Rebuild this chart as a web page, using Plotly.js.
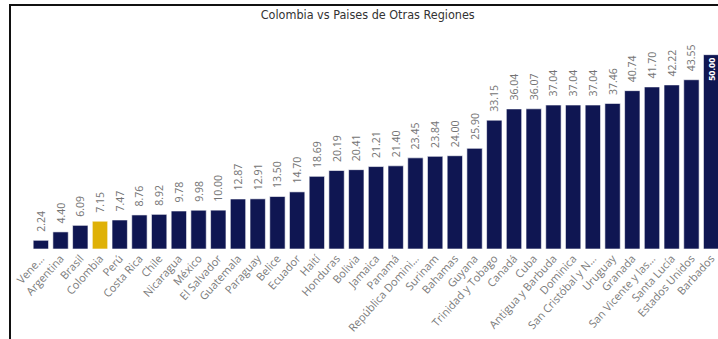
<!DOCTYPE html>
<html>
<head>
<meta charset="utf-8">
<script src="https://cdn.plot.ly/plotly-3.0.1.min.js"></script>
<style>
  html, body { margin: 0; padding: 0; background: #fff; }
  #wrap { position: relative; width: 718px; height: 339px; overflow: hidden; }
  #chart { position: absolute; left: 0; top: 0; width: 721px; height: 339px; }
  #frame { position: absolute; left: 9px; top: 4px; width: 720px; height: 340px;
           border-top: 2px solid #111; border-left: 2px solid #111; pointer-events: none; }
</style>
</head>
<body>
<div id="wrap">
  <div id="chart"></div>
  <div id="frame"></div>
</div>
<script>
// Countries, ordered from lowest to highest value
const countries = [
  "Vene…", "Argentina", "Brasil", "Colombia", "Perú", "Costa Rica", "Chile",
  "Nicaragua", "México", "El Salvador", "Guatemala", "Paraguay", "Belice",
  "Ecuador", "Haití", "Honduras", "Bolivia", "Jamaica", "Panamá",
  "República Domini…", "Surinam", "Bahamas", "Guyana", "Trinidad y Tobago",
  "Canadá", "Cuba", "Antigua y Barbuda", "Dominica", "San Cristóbal y N…",
  "Uruguay", "Granada", "San Vicente y las…", "Santa Lucía", "Estados Unidos",
  "Barbados"
];

const values = [
  2.24, 4.40, 6.09, 7.15, 7.47, 8.76, 8.92,
  9.78, 9.98, 10.00, 12.87, 12.91, 13.50,
  14.70, 18.69, 20.19, 20.41, 21.21, 21.40,
  23.45, 23.84, 24.00, 25.90, 33.15,
  36.04, 36.07, 37.04, 37.04, 37.04,
  37.46, 40.74, 41.70, 42.22, 43.55,
  50.00
];

const highlight = "Colombia";
const navy = "#0f1652";
const gold = "#dfb106";

const idx = countries.map((_, i) => i);
const colors = countries.map(c => c === highlight ? gold : navy);
const maxVal = Math.max(...values);
const positions = values.map(v => v === maxVal ? "inside" : "outside");
// outside labels get a little breathing room above the bar
const labels = values.map(v => (v === maxVal ? "" : "\u00a0\u00a0") + v.toFixed(2));

const trace = {
  type: "bar",
  x: idx,
  y: values,
  marker: { color: colors, line: { color: "#ffffff", width: 0.6 } },
  text: labels,
  textposition: positions,
  insidetextanchor: "end",
  textangle: -90,
  constraintext: "none",
  cliponaxis: false,
  insidetextfont: { family: "Open Sans, sans-serif", size: 9, color: "#ffffff", weight: "bold" },
  outsidetextfont: { family: "Open Sans, sans-serif", size: 10.5, color: "#737373" },
  hoverinfo: "skip"
};

const layout = {
  width: 721,
  height: 339,
  margin: { l: 31, r: 0, t: 43, b: 90, pad: 0 },
  paper_bgcolor: "#ffffff",
  plot_bgcolor: "#ffffff",
  showlegend: false,
  bargap: 0.22,
  title: {
    text: "Colombia vs Paises de Otras Regiones",
    font: { family: "DejaVu Sans Condensed, Liberation Sans Narrow, sans-serif", stretch: "condensed", size: 12.5, color: "#333333" },
    x: 0.51, xref: "container", xanchor: "center",
    y: 1, yref: "container", yanchor: "top", pad: { t: 10 }
  },
  xaxis: {
    type: "linear",
    range: [-0.5, 34.5],
    tickmode: "array",
    tickvals: idx,
    ticktext: countries,
    tickangle: -48,
    tickfont: { family: "Open Sans, sans-serif", size: 11, color: "#7a7a7a" },
    showgrid: false, zeroline: false, showline: false, ticks: "",
    fixedrange: true
  },
  yaxis: {
    range: [0, 53],
    visible: false,
    showgrid: false, zeroline: false,
    fixedrange: true
  }
};

Plotly.newPlot("chart", [trace], layout, { displayModeBar: false, staticPlot: true });
</script>
</body>
</html>
